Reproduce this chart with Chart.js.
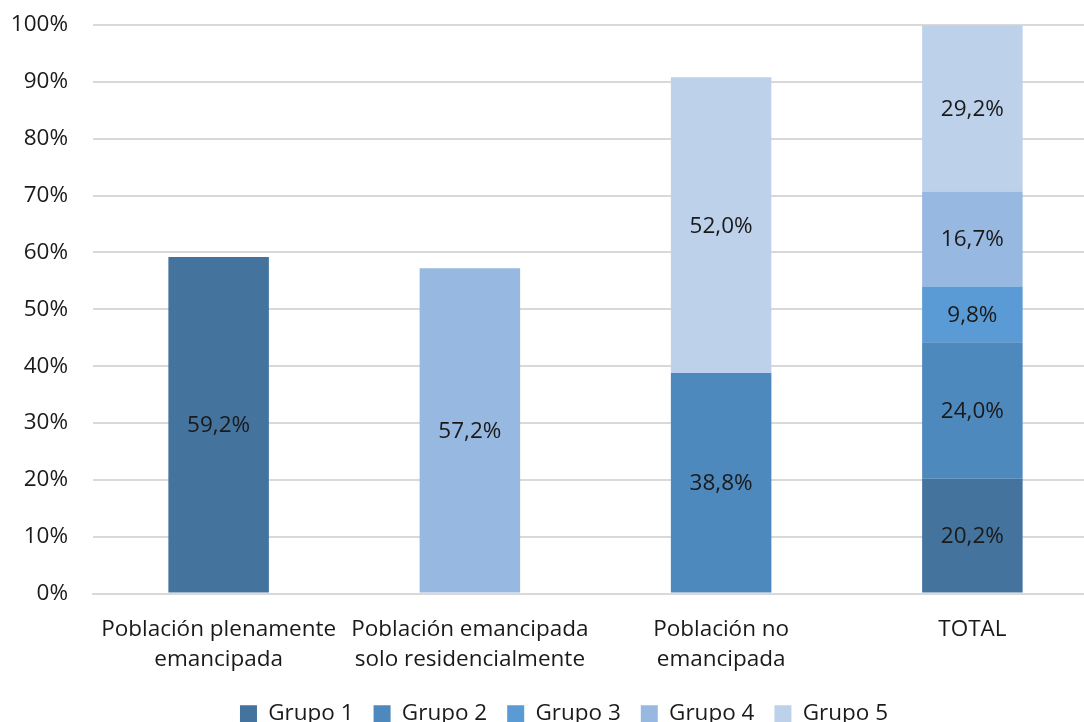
<!DOCTYPE html>
<html>
<head>
<meta charset="utf-8">
<script src="https://cdn.jsdelivr.net/npm/chart.js@4/dist/chart.umd.min.js"></script>
<style>
    html, body { margin: 0; padding: 0; background: #fff; overflow: hidden; }
    #wrap { width: 1098px; height: 735px; }
</style>
</head>
<body>
<div id="wrap"><canvas id="chart" width="1098" height="735"></canvas></div>
<script>
const categories = [
    ["Población plenamente", "emancipada"],
    ["Población emancipada", "solo residencialmente"],
    ["Población no", "emancipada"],
    "TOTAL"
];

const grupo1 = [59.2, null, null, 20.2];
const grupo2 = [null, null, 38.8, 24.0];
const grupo3 = [null, null, null, 9.8];
const grupo4 = [null, 57.2, null, 16.7];
const grupo5 = [null, null, 52.0, 29.2];

const seriesNames = ["Grupo 1", "Grupo 2", "Grupo 3", "Grupo 4", "Grupo 5"];
const seriesColors = ["#44739e", "#4e89bd", "#5b9bd5", "#97b8e0", "#bdd1ea"];

const fontFamily = "'Open Sans', 'Noto Sans', sans-serif";
const fontSize = 22.5;

// etiquetas dentro de cada segmento
const barLabels = {
    id: "barLabels",
    afterDatasetsDraw(chart) {
        const c = chart.ctx;
        c.save();
        c.font = fontSize + "px " + fontFamily;
        c.fillStyle = "#1a1a1a";
        c.textAlign = "center";
        c.textBaseline = "middle";
        chart.data.datasets.forEach((ds, i) => {
            const meta = chart.getDatasetMeta(i);
            meta.data.forEach((bar, j) => {
                const v = ds.data[j];
                if (v === null || v === undefined) return;
                const txt = v.toFixed(1).replace(".", ",") + "%";
                c.fillText(txt, bar.x, (bar.y + bar.base) / 2 + 1);
            });
        });
        c.restore();
    }
};

// la leyenda del original esta algo desplazada a la derecha
const legendShift = {
    id: "legendShift",
    afterLayout(chart) {
        if (chart.legend) {
            chart.legend.left += 15;
            chart.legend.right += 15;
        }
    }
};

const data = {
    labels: categories,
    datasets: [grupo1, grupo2, grupo3, grupo4, grupo5].map((vals, i) => ({
        label: seriesNames[i],
        data: vals,
        backgroundColor: seriesColors[i],
        borderWidth: 0,
        barPercentage: 0.4,
        categoryPercentage: 1.0
    }))
};

new Chart(document.getElementById("chart"), {
    type: "bar",
    data: data,
    plugins: [barLabels, legendShift],
    options: {
        responsive: false,
        animation: false,
        layout: {
            padding: { top: 25, left: 0, right: 0, bottom: 0 }
        },
        plugins: {
            tooltip: { enabled: false },
            legend: {
                position: "bottom",
                labels: {
                    color: "#1a1a1a",
                    font: { family: fontFamily, size: fontSize },
                    boxWidth: 17,
                    boxHeight: 17,
                    padding: 20
                }
            }
        },
        scales: {
            x: {
                stacked: true,
                grid: { display: false, drawTicks: false },
                border: { display: true, color: "#d9d9d9", width: 2 },
                ticks: {
                    color: "#1a1a1a",
                    font: { family: fontFamily, size: fontSize, lineHeight: 1.33 },
                    padding: 21,
                    maxRotation: 0,
                    autoSkip: false
                },
                afterFit(scale) {
                    scale.height = 89;
                }
            },
            y: {
                stacked: true,
                min: 0,
                max: 100,
                grid: { color: "#d9d9d9", lineWidth: 2, drawTicks: false },
                border: { display: false },
                ticks: {
                    stepSize: 10,
                    color: "#1a1a1a",
                    font: { family: fontFamily, size: fontSize },
                    padding: 25,
                    callback: v => v + "%"
                },
                afterFit(scale) {
                    scale.width = 93;
                    scale.paddingTop = 0;
                    scale.paddingBottom = 0;
                }
            }
        }
    }
});
</script>
</body>
</html>
